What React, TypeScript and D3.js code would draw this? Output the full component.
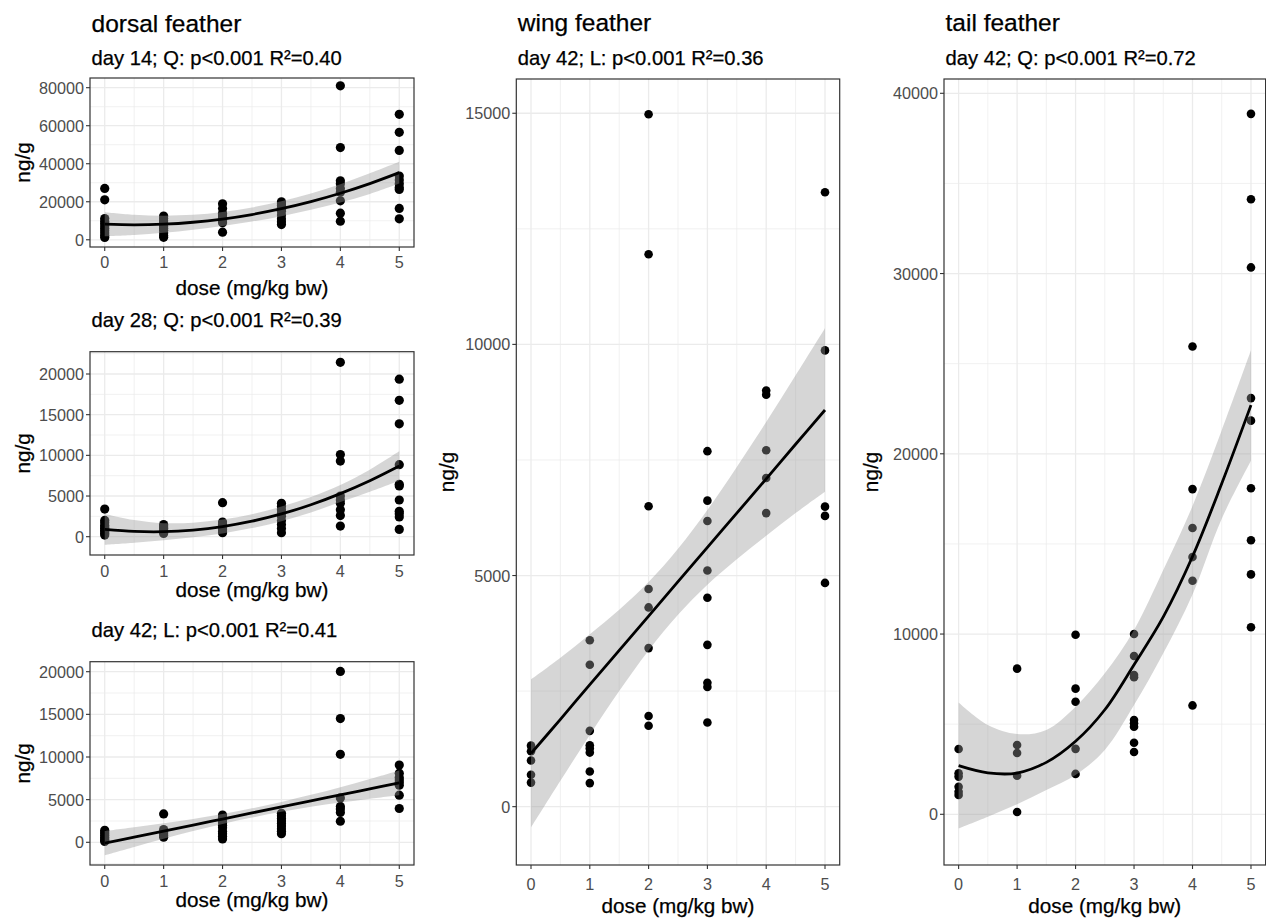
import React from 'react';
import * as d3 from 'd3';

// ---------------- data ----------------
const doses = [0, 1, 2, 3, 4, 5];
const fitX = [0, 0.5, 1, 1.5, 2, 2.5, 3, 3.5, 4, 4.5, 5];

// dorsal feather, day 14 (values per dose group, ng/g)
const dorsal14Points = [
  [27000, 21000, 11200, 9800, 8500, 7200, 6000, 4800, 3500, 2300, 1200],
  [12500, 11200, 10000, 9000, 8000, 7000, 6000, 5000, 3500, 2200, 1300],
  [18900, 16500, 14000, 13000, 12000, 11000, 10000, 9000, 4000],
  [20000, 19000, 18000, 17000, 16000, 15000, 13000, 11000, 9500, 8000],
  [81000, 48500, 31000, 29500, 27000, 25000, 20500, 14000, 9800],
  [66000, 56500, 47000, 33500, 31500, 29500, 27500, 26500, 16500, 11000],
];
const dorsal14Fit = [8200, 7860, 8200, 9220, 10910, 13290, 16330, 20050, 24460, 29540, 35300];
const dorsal14Lo = [1900, 2560, 3700, 5320, 7210, 9590, 12430, 15750, 19660, 24140, 29600];
const dorsal14Hi = [14500, 13160, 12700, 13120, 14610, 16990, 20230, 24350, 29260, 34940, 41000];

// dorsal feather, day 28
const dorsal28Points = [
  [3400, 2000, 1700, 1400, 1200, 1000, 800, 600, 400, 200],
  [1500, 1300, 1100, 1000, 800, 600, 400],
  [4180, 1800, 1500, 1300, 1100, 900, 700, 500],
  [4100, 3700, 3300, 2900, 2500, 2000, 1500, 1000, 500],
  [21430, 10100, 9300, 5000, 4500, 4100, 3300, 2600, 1300],
  [19360, 16760, 13870, 8850, 6450, 6230, 4510, 3130, 2830, 2420, 900],
];
const dorsal28Fit = [900, 650, 615, 820, 1250, 1910, 2800, 3930, 5300, 6880, 8690];
const dorsal28Lo = [-1000, -750, -435, -80, 400, 1060, 1900, 2980, 4250, 5530, 6890];
const dorsal28Hi = [2800, 2050, 1665, 1720, 2100, 2760, 3700, 4880, 6350, 8230, 10490];

// dorsal feather, day 42
const dorsal42Points = [
  [1400, 1200, 1000, 800, 600, 400, 250, 100],
  [3330, 1500, 1200, 1000, 800, 600],
  [3200, 2900, 2600, 2300, 2000, 1700, 1300, 1000, 700, 400],
  [3400, 3100, 2800, 2500, 2200, 1900, 1600, 1300, 1000],
  [20030, 14500, 10310, 5200, 4200, 3900, 3500, 2470],
  [9060, 8100, 7600, 7300, 7000, 6700, 5530, 3960],
];
const dorsal42Fit = [-100, 610, 1320, 2020, 2730, 3440, 4150, 4860, 5560, 6270, 6980];
const dorsal42Lo = [-1520, -540, 420, 1320, 2150, 2900, 3570, 4160, 4660, 5120, 5530];
const dorsal42Hi = [1320, 1760, 2220, 2720, 3310, 3980, 4730, 5560, 6460, 7420, 8430];

// wing feather, day 42
const wingPoints = [
  [1320, 1200, 1000, 690, 520],
  [3600, 3070, 1640, 1330, 1260, 1170, 760, 510],
  [14980, 11950, 6500, 4710, 4310, 3430, 1960, 1750],
  [7690, 6620, 6180, 5110, 4520, 3500, 2680, 2590, 1820],
  [9000, 8910, 7710, 7110, 6350],
  [13290, 9870, 6490, 6290, 4840],
];
const wingFit = [1150, 1890, 2640, 3380, 4120, 4870, 5610, 6350, 7090, 7840, 8580];
const wingLo = [-450, 560, 1550, 2500, 3380, 4150, 4800, 5350, 5860, 6350, 6810];
const wingHi = [2750, 3220, 3730, 4260, 4860, 5580, 6420, 7350, 8320, 9330, 10350];

// tail feather, day 42
const tailPoints = [
  [3620, 2280, 2090, 1530, 1250, 1070],
  [8080, 3840, 3400, 2140, 130],
  [9960, 6970, 6240, 3630, 2240],
  [10000, 8780, 7730, 7600, 5230, 5050, 4860, 3970, 3460],
  [25950, 18040, 15880, 14270, 12960, 6040],
  [38860, 34120, 30340, 23090, 21840, 18090, 15200, 13310, 10380],
];
const tailFit = [2700, 2300, 2290, 2880, 4050, 5800, 8300, 10950, 14300, 18350, 22700];
const tailLo = [-780, -130, 560, 1350, 2180, 3570, 6060, 8930, 12200, 16400, 19610];
const tailHi = [6200, 4950, 4450, 4680, 5970, 7820, 10230, 13550, 17100, 21300, 25750];

// tick labels
const ticks80k = [0, 20000, 40000, 60000, 80000];
const minor80k = [10000, 30000, 50000, 70000];
const ticks20k = [0, 5000, 10000, 15000, 20000];
const minor20k = [-2500, 2500, 7500, 12500, 17500, 22500];
const ticks15k = [0, 5000, 10000, 15000];
const minor15k = [-2500, 2500, 7500, 12500];
const ticks40k = [0, 10000, 20000, 30000, 40000];
const minor40k = [5000, 15000, 25000, 35000];
const xMinor = [-0.5, 0.5, 1.5, 2.5, 3.5, 4.5, 5.5];

const titles = ['dorsal feather', 'wing feather', 'tail feather'];
const subtitles = [
  'day 14; Q: p<0.001 R²=0.40',
  'day 28; Q: p<0.001 R²=0.39',
  'day 42; L: p<0.001 R²=0.41',
  'day 42; L: p<0.001 R²=0.36',
  'day 42; Q: p<0.001 R²=0.72',
];
const xTitle = 'dose (mg/kg bw)';
const yTitle = 'ng/g';

// ---------------- layout ----------------
const FONT = '"Liberation Sans", Arial, Helvetica, sans-serif';

type PanelProps = {
  points: number[][];
  fit: number[];
  lo: number[];
  hi: number[];
  yDomain: [number, number];
  yTicks: number[];
  yMinor: number[];
  box: { l: number; r: number; t: number; b: number };
  title?: string;
  subtitle: string;
  titleY?: number;
  subY: number;
  tickY: number;
  axisY: number;
  yLabX: number;
  r: number;
};

function Panel(p: PanelProps) {
  const { box } = p;
  const x = d3.scaleLinear().domain([-0.25, 5.25]).range([box.l, box.r]);
  const y = d3.scaleLinear().domain(p.yDomain).range([box.b, box.t]);
  const clipId = `clip-${Math.round(box.l)}-${Math.round(box.t)}`;
  const xMinorIn = xMinor.filter((v) => v > -0.25 && v < 5.25);
  const yMinorIn = p.yMinor.filter((v) => v > p.yDomain[0] && v < p.yDomain[1]);

  const area = d3
    .area<number>()
    .x((_, i) => x(fitX[i]))
    .y0((_, i) => y(p.lo[i]))
    .y1((_, i) => y(p.hi[i]))
    .curve(d3.curveCatmullRom);
  const line = d3
    .line<number>()
    .x((_, i) => x(fitX[i]))
    .y((d) => y(d))
    .curve(d3.curveCatmullRom);

  const textStroke = { stroke: '#000', strokeWidth: 0.25 };

  return (
    <g>
      <defs>
        <clipPath id={clipId}>
          <rect x={box.l} y={box.t} width={box.r - box.l} height={box.b - box.t} />
        </clipPath>
      </defs>
      {p.title && (
        <text x={box.l + 1.5} y={p.titleY} fontSize={24.5} fill="#000" fontFamily={FONT} {...textStroke}>
          {p.title}
        </text>
      )}
      <text x={box.l + 1.5} y={p.subY} fontSize={20.2} fill="#000" fontFamily={FONT} {...textStroke}>
        {p.subtitle}
      </text>
      <rect x={box.l} y={box.t} width={box.r - box.l} height={box.b - box.t} fill="#fff" />
      <g clipPath={`url(#${clipId})`}>
        {yMinorIn.map((v) => (
          <line key={'ym' + v} x1={box.l} x2={box.r} y1={y(v)} y2={y(v)} stroke="#ebebeb" strokeWidth={0.7} />
        ))}
        {xMinorIn.map((v) => (
          <line key={'xm' + v} x1={x(v)} x2={x(v)} y1={box.t} y2={box.b} stroke="#ebebeb" strokeWidth={0.7} />
        ))}
        {p.yTicks.map((v) => (
          <line key={'yg' + v} x1={box.l} x2={box.r} y1={y(v)} y2={y(v)} stroke="#ebebeb" strokeWidth={1.3} />
        ))}
        {doses.map((v) => (
          <line key={'xg' + v} x1={x(v)} x2={x(v)} y1={box.t} y2={box.b} stroke="#ebebeb" strokeWidth={1.3} />
        ))}
        {p.points.map((grp, gi) =>
          grp.map((v, j) => <circle key={gi + '-' + j} cx={x(doses[gi])} cy={y(v)} r={p.r} fill="#000" />)
        )}
        <path d={area(p.fit) || ''} fill="#999999" fillOpacity={0.4} />
        <path d={line(p.fit) || ''} fill="none" stroke="#000" strokeWidth={2.8} />
      </g>
      <rect
        x={box.l}
        y={box.t}
        width={box.r - box.l}
        height={box.b - box.t}
        fill="none"
        stroke="#333333"
        strokeWidth={1.2}
      />
      {p.yTicks.map((v) => (
        <g key={'yt' + v}>
          <line x1={box.l - 4} x2={box.l} y1={y(v)} y2={y(v)} stroke="#333333" strokeWidth={1.1} />
          <text
            x={box.l - 6}
            y={y(v)}
            textAnchor="end"
            dominantBaseline="central"
            fontSize={16.2}
            fill="#4d4d4d"
            fontFamily={FONT}
          >
            {v}
          </text>
        </g>
      ))}
      {doses.map((v) => (
        <g key={'xt' + v}>
          <line x1={x(v)} x2={x(v)} y1={box.b} y2={box.b + 4} stroke="#333333" strokeWidth={1.1} />
          <text x={x(v)} y={p.tickY} textAnchor="middle" fontSize={16.2} fill="#4d4d4d" fontFamily={FONT}>
            {v}
          </text>
        </g>
      ))}
      <text
        x={(box.l + box.r) / 2}
        y={p.axisY}
        textAnchor="middle"
        fontSize={20.7}
        fill="#000"
        fontFamily={FONT}
        {...textStroke}
      >
        {xTitle}
      </text>
      <text
        transform={`translate(${p.yLabX},${(box.t + box.b) / 2}) rotate(-90)`}
        textAnchor="middle"
        dominantBaseline="central"
        fontSize={20.7}
        fill="#000"
        fontFamily={FONT}
        {...textStroke}
      >
        {yTitle}
      </text>
    </g>
  );
}

export default function App() {
  return (
    <svg
      width={1266}
      height={921}
      style={{ position: 'absolute', left: 0, top: 0, background: '#fff' }}
      fontFamily={FONT}
    >
      <rect x={0} y={0} width={1266} height={921} fill="#fff" />
      <Panel
        points={dorsal14Points}
        fit={dorsal14Fit}
        lo={dorsal14Lo}
        hi={dorsal14Hi}
        yDomain={[-3800, 85100]}
        yTicks={ticks80k}
        yMinor={minor80k}
        box={{ l: 90, r: 414, t: 78, b: 247 }}
        title={titles[0]}
        titleY={31.7}
        subtitle={subtitles[0]}
        subY={65}
        tickY={268.3}
        axisY={295}
        yLabX={22}
        r={4.6}
      />
      <Panel
        points={dorsal28Points}
        fit={dorsal28Fit}
        lo={dorsal28Lo}
        hi={dorsal28Hi}
        yDomain={[-2250, 22741]}
        yTicks={ticks20k}
        yMinor={minor20k}
        box={{ l: 90, r: 414, t: 351.7, b: 555 }}
        subtitle={subtitles[1]}
        subY={327.3}
        tickY={576.7}
        axisY={597.3}
        yLabX={22}
        r={4.6}
      />
      <Panel
        points={dorsal42Points}
        fit={dorsal42Fit}
        lo={dorsal42Lo}
        hi={dorsal42Hi}
        yDomain={[-2661, 21172]}
        yTicks={ticks20k}
        yMinor={minor20k}
        box={{ l: 90, r: 414, t: 661.7, b: 865 }}
        subtitle={subtitles[2]}
        subY={637.3}
        tickY={886.7}
        axisY={907.3}
        yLabX={22}
        r={4.6}
      />
      <Panel
        points={wingPoints}
        fit={wingFit}
        lo={wingLo}
        hi={wingHi}
        yDomain={[-1262, 15741]}
        yTicks={ticks15k}
        yMinor={minor15k}
        box={{ l: 516.3, r: 839.7, t: 79, b: 865 }}
        title={titles[1]}
        titleY={30.7}
        subtitle={subtitles[3]}
        subY={65}
        tickY={890}
        axisY={913.3}
        yLabX={446}
        r={4.3}
      />
      <Panel
        points={tailPoints}
        fit={tailFit}
        lo={tailLo}
        hi={tailHi}
        yDomain={[-2813, 40793]}
        yTicks={ticks40k}
        yMinor={minor40k}
        box={{ l: 944, r: 1265.6, t: 79, b: 865 }}
        title={titles[2]}
        titleY={30.7}
        subtitle={subtitles[4]}
        subY={65}
        tickY={890}
        axisY={913.3}
        yLabX={870}
        r={4.3}
      />
    </svg>
  );
}
